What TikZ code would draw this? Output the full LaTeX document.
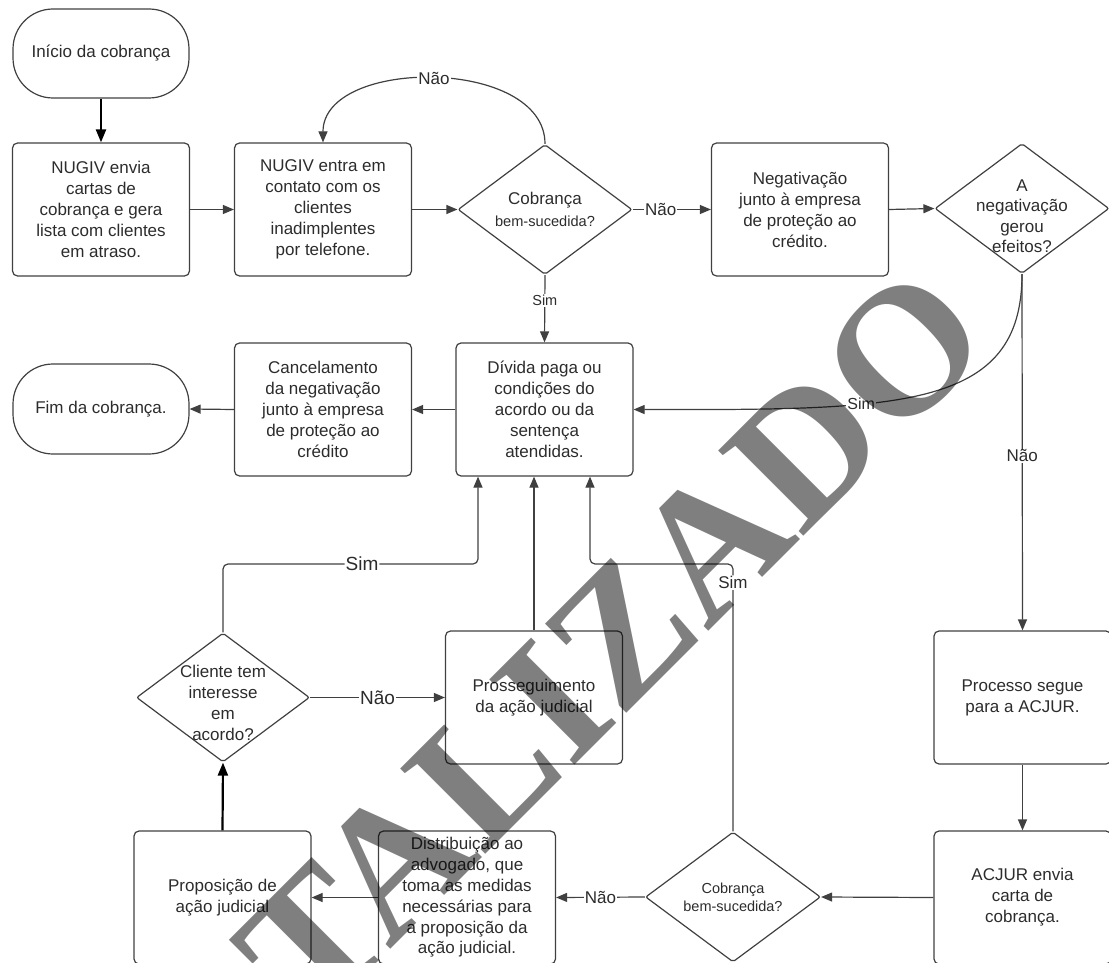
\documentclass[tikz,border=0pt]{standalone}
\usepackage{fontspec}
\setmainfont{Liberation Sans}
\newfontfamily\wmfont{Liberation Serif}
\usetikzlibrary{arrows.meta,shapes.geometric}
\definecolor{ln}{HTML}{404040}
\definecolor{tx}{HTML}{2C2C2C}
\begin{document}
\begin{tikzpicture}[x=1pt,y=-1pt,
  box/.style={draw=ln, line width=1.2pt, rounded corners=5pt, minimum width=177pt, minimum height=133pt, inner sep=0pt, align=center, text=tx, font=\fontsize{17}{21}\selectfont},
  term/.style={box, rounded corners=40pt, minimum width=176pt, minimum height=89pt},
  diam/.style={draw=ln, line width=1.2pt, diamond, rounded corners=2pt, minimum width=174pt, minimum height=130pt, inner sep=0pt},
  txt/.style={align=center, text=tx, inner sep=0pt, font=\fontsize{17}{21}\selectfont},
  arr/.style={draw=ln, line width=1.2pt, -{Triangle[length=11pt,width=9pt]}},
  boldarr/.style={draw=black, line width=2.2pt, -{Triangle[length=13pt,width=10pt]}},
  lab/.style={fill=white, inner sep=1pt, text=tx, font=\fontsize{17}{17}\selectfont},
  labs/.style={lab, font=\fontsize{14.5}{14.5}\selectfont},
  labb/.style={lab, font=\fontsize{19}{19}\selectfont}
]
\useasboundingbox (0,0) rectangle (1109,963);

% nodes
\node[term] (start) at (101,53.5) {Início da cobrança};
\node[box] (b1) at (101,209.5) {NUGIV envia\\cartas de\\cobrança e gera\\lista com clientes\\em atraso.};
\node[box] (b2) at (323,209.5) {NUGIV entra em\\contato com os\\clientes\\inadimplentes\\por telefone.};
\node[diam] (d1) at (545,209.5) {};
\node[txt, font=\fontsize{17}{22}\selectfont] (d1t) at (545,209.5) {Cobrança\\{\fontsize{14.6}{18}\selectfont bem-sucedida?}};
\node[box] (neg) at (800,209.5) {Negativação\\junto à empresa\\de proteção ao\\crédito.};
\node[diam] (d2) at (1022,208.5) {};
\node[txt, font=\fontsize{17}{20.5}\selectfont] (d2t) at (1022,216) {A\\negativação\\gerou\\efeitos?};

\node[term, minimum height=90pt] (fim) at (101,409) {Fim da cobrança.};
\node[box] (canc) at (323,409.5) {Cancelamento\\da negativação\\junto à empresa\\de proteção ao\\crédito};
\node[box] (debt) at (544.5,409.5) {Dívida paga ou\\condições do\\acordo ou da\\sentença\\atendidas.};

\node[diam, minimum width=173pt, minimum height=129pt] (d4) at (223,697.5) {};
\node[txt] (d4t) at (223,703) {Cliente tem\\interesse\\em\\acordo?};
\node[box] (pros) at (534,697.5) {Prosseguimento\\da ação judicial};
\node[box] (proc) at (1022.5,697.5) {Processo segue\\para a ACJUR.};

\node[box] (prop) at (222.5,897.5) {Proposição de\\ação judicial};
\node[box, font=\fontsize{17}{20.8}\selectfont] (dist) at (467,897.5) {Distribuição ao\\advogado, que\\toma as medidas\\necessárias para\\a proposição da\\ação judicial.};
\node[diam, minimum width=175pt] (d3) at (733,897) {};
\node[txt, font=\fontsize{14.5}{18}\selectfont] (d3t) at (733,897) {Cobrança\\bem-sucedida?};
\node[box] (acj) at (1022.5,897.5) {ACJUR envia\\carta de\\cobrança.};

\coordinate (j1) at (223,564);
\coordinate (j2) at (478,564);
\coordinate (j3) at (733,564);
\coordinate (j4) at (590,564);

% connectors
\draw[boldarr] (start.south) -- (b1.north);
\draw[arr] (b1.east) -- (b2.west);
\draw[arr] (b2.east) -- (d1.west);
\draw[arr] (d1.east) -- node[lab, pos=0.36]{Não} (neg.west);
\draw[arr] (neg.east) -- (d2.west);
\draw[arr] (d1.north) .. controls (545,57) and (323,57) .. node[lab, pos=0.5]{Não} (b2.north);
\draw[arr] (d1.south) -- node[labs, pos=0.38]{Sim} (debt.north);
\draw[arr] (d2.south) .. controls (1022,410) and (900,410) .. node[lab, pos=0.65, font=\fontsize{16}{16}\selectfont]{Sim} (debt.east);
\draw[arr] (d2.south) -- node[lab, pos=0.51]{Não} (proc.north);
\draw[arr] (debt.west) -- (canc.east);
\draw[arr] (canc.west) -- (fim.east);
\draw[arr] (proc.south) -- (acj.north);
\draw[arr] (acj.west) -- (d3.east);
\draw[arr] (d3.west) -- node[lab, pos=0.5]{Não} (dist.east);
\draw[arr] (dist.west) -- (prop.east);
\draw[boldarr] (prop.north) -- (d4.south);
\draw[arr] (d4.east) -- node[labb, pos=0.5]{Não} (pros.west);
\draw[arr, rounded corners=5pt] (d4.north) -- (j1) -- node[labb, pos=0.545]{Sim} (j2) -- (j2 |- debt.south);
\draw[arr] (pros.north) -- (pros.north |- debt.south);
\draw[arr, rounded corners=5pt] (d3.north) -- node[lab, pos=0.93]{Sim} (j3) -- (j4) -- (j4 |- debt.south);

% watermark
\node[rotate=45, anchor=base west, inner sep=0pt, text=black, text opacity=0.5,
      font=\wmfont\bfseries\fontsize{184}{184}\selectfont] (wm) at (312,1028) {TALIZADO};
\end{tikzpicture}
\end{document}
